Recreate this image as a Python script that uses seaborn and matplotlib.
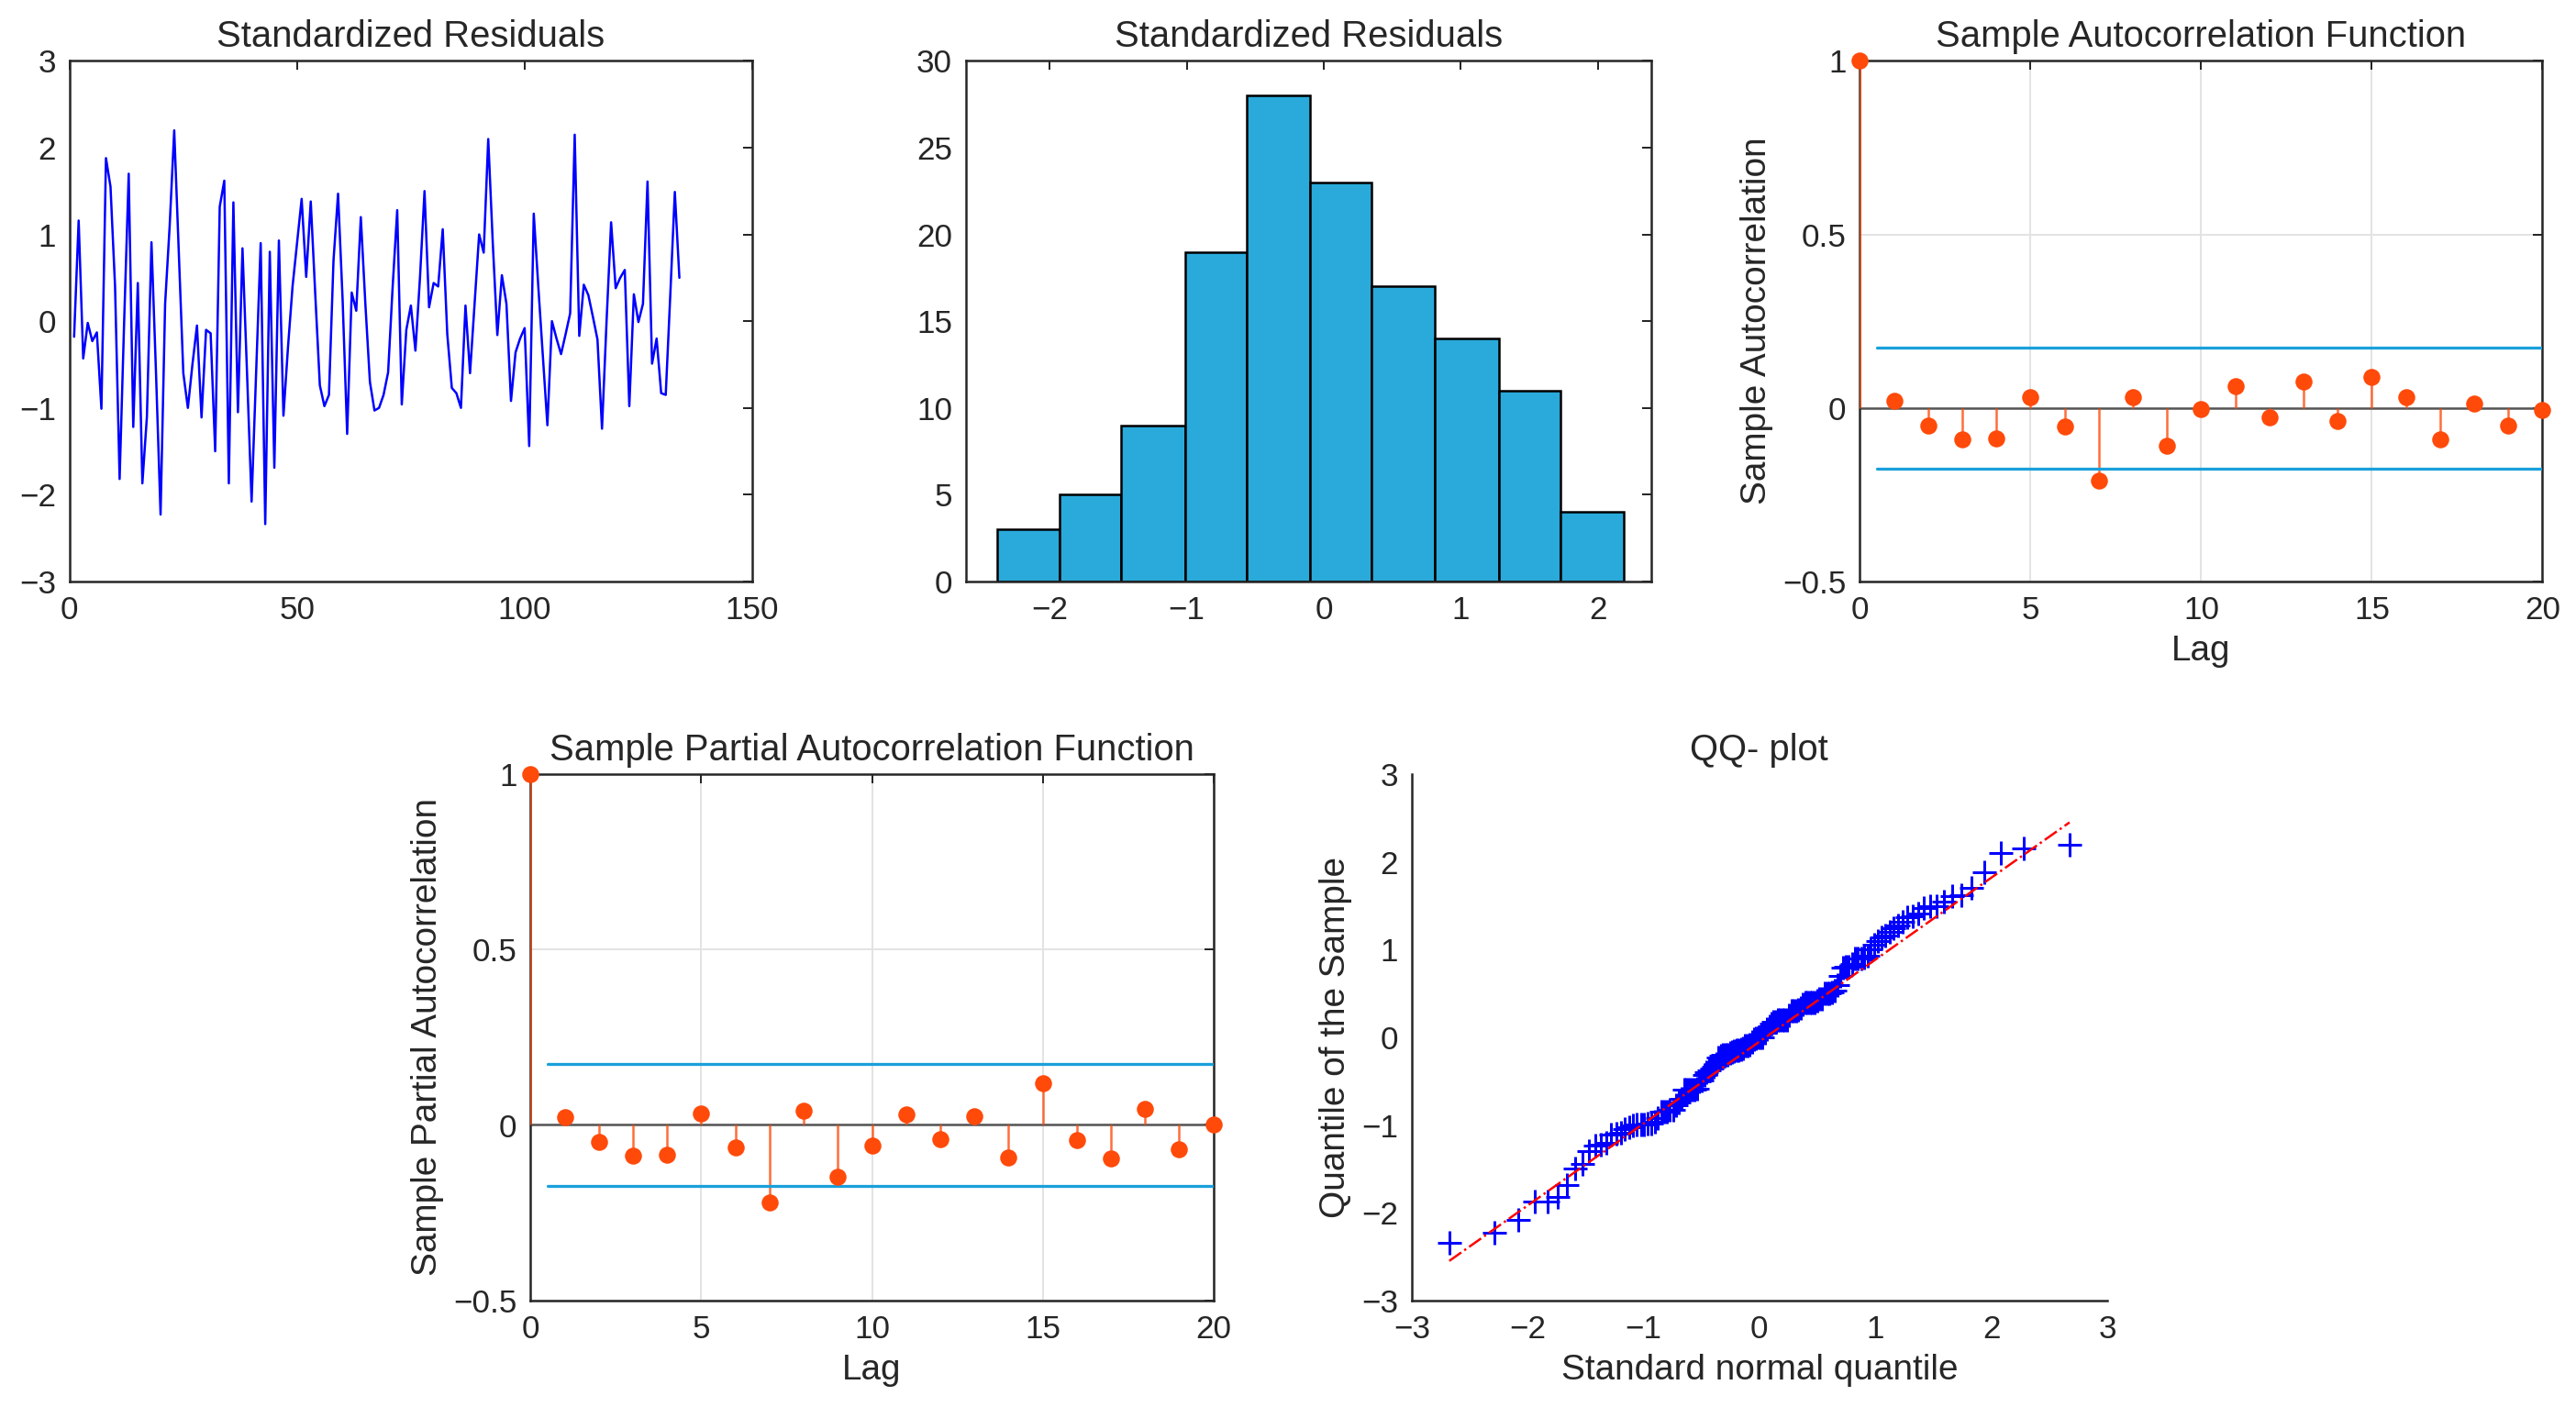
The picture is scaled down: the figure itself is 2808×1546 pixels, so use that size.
import numpy as np
import pandas as pd
import matplotlib
matplotlib.use('Agg')
import matplotlib.pyplot as plt
import seaborn as sns
from statistics import NormalDist

# standardized residuals
residuals = [
    -0.18, 1.16, -0.43, -0.02, -0.23, -0.13, -1.01, 1.88, 1.55, 0.40,
    -1.82, 0.00, 1.70, -1.22, 0.44, -1.87, -1.10, 0.91, -0.60, -2.23,
    0.20, 1.10, 2.20, 0.80, -0.60, -1.00, -0.50, -0.05, -1.11, -0.10,
    -0.14, -1.50, 1.32, 1.62, -1.87, 1.37, -1.05, 0.84, -0.60, -2.08,
    -0.60, 0.90, -2.34, 0.80, -1.69, 0.93, -1.09, -0.30, 0.40, 0.90,
    1.41, 0.51, 1.38, 0.30, -0.74, -0.98, -0.85, 0.70, 1.47, 0.25,
    -1.30, 0.33, 0.12, 1.20, 0.20, -0.70,
    -1.03, -1.00, -0.85, -0.59, 0.40, 1.28, -0.96, -0.10, 0.18, -0.34,
    0.50, 1.50, 0.16, 0.44, 0.40, 1.06, -0.15, -0.77, -0.83,
    -1.00, 0.18, -0.60, 0.20, 1.00, 0.79, 2.10, 0.90, -0.16, 0.53,
    0.20, -0.92, -0.36, -0.20, -0.08, -1.44, 1.24, 0.40, -0.40, -1.20,
    0.00, -0.20, -0.38, -0.15, 0.09, 2.15, -0.17, 0.42, 0.30, 0.05,
    -0.21, -1.24, 0.00, 1.14, 0.38, 0.50, 0.59, -0.98, 0.31, -0.01,
    0.20, 1.61, -0.49, -0.20, -0.83, -0.85, 0.30, 1.49, 0.50,
]

# histogram of the residuals
hist_edges = [-2.38, -1.93, -1.48, -1.01, -0.56, -0.10, 0.35, 0.81, 1.28, 1.73, 2.19]
hist_counts = [3, 5, 9, 19, 28, 23, 17, 14, 11, 4]

# sample ACF / PACF, lags 0..20
lags = list(range(21))
acf_vals = [1.0, 0.020, -0.050, -0.090, -0.087, 0.030, -0.054, -0.210, 0.030, -0.110,
            -0.003, 0.063, -0.026, 0.075, -0.039, 0.090, 0.032, -0.090, 0.013, -0.051,
            -0.006]
pacf_vals = [1.0, 0.022, -0.049, -0.087, -0.085, 0.033, -0.065, -0.222, 0.040, -0.149,
             -0.058, 0.031, -0.040, 0.024, -0.094, 0.120, -0.042, -0.096, 0.046, -0.070,
             0.000]
conf_bound = 0.174

BLUE = '#0000FF'
STEM = '#FF4A0A'
BOUND = '#1AA0DB'
HIST = '#29AADB'
SPINE = '#262626'

sns.set_theme(style='white')
plt.rcParams['font.family'] = ['Liberation Sans', 'DejaVu Sans']
plt.rcParams['axes.edgecolor'] = SPINE
plt.rcParams['axes.linewidth'] = 1.0
plt.rcParams['xtick.color'] = SPINE
plt.rcParams['ytick.color'] = SPINE
plt.rcParams['axes.labelcolor'] = SPINE

TITLE_FS = 16
LABEL_FS = 15.5
TICK_FS = 14


def style_box(ax, grid=False):
    for side in ['top', 'right', 'left', 'bottom']:
        ax.spines[side].set_visible(True)
        ax.spines[side].set_color(SPINE)
    ax.tick_params(direction='in', length=4, width=0.8, top=True, right=True,
                   labelsize=TICK_FS, pad=6)
    if grid:
        ax.grid(True, color='#E3E3E3', linewidth=0.8)
        ax.set_axisbelow(True)
    else:
        ax.grid(False)


def stem_plot(ax, vals, title, ylabel):
    df = pd.DataFrame({'lag': lags, 'val': vals})
    ax.axhline(0, color='#555555', linewidth=1.0, zorder=2)
    ax.vlines(df['lag'], 0, df['val'], color=STEM, linewidth=1.0, alpha=0.8, zorder=3)
    sns.scatterplot(data=df, x='lag', y='val', color=STEM, s=55, edgecolor=STEM,
                    linewidth=0, ax=ax, zorder=4, clip_on=False)
    ax.plot([0.5, 20], [conf_bound, conf_bound], color=BOUND, linewidth=1.3, zorder=3)
    ax.plot([0.5, 20], [-conf_bound, -conf_bound], color=BOUND, linewidth=1.3, zorder=3)
    ax.set_xlim(0, 20)
    ax.set_ylim(-0.5, 1)
    ax.set_xticks([0, 5, 10, 15, 20])
    ax.set_yticks([-0.5, 0, 0.5, 1])
    ax.set_yticklabels(['\u22120.5', '0', '0.5', '1'])
    ax.set_title(title, fontsize=TITLE_FS, pad=6)
    ax.set_xlabel('Lag', fontsize=LABEL_FS)
    ax.set_ylabel(ylabel, fontsize=LABEL_FS)
    style_box(ax, grid=True)


fig = plt.figure(figsize=(15.6, 8.589), dpi=180)

# time series of residuals
ax1 = fig.add_axes([0.027, 0.590, 0.265, 0.367])
ts = pd.DataFrame({'t': np.arange(1, len(residuals) + 1), 'r': residuals})
sns.lineplot(data=ts, x='t', y='r', color=BLUE, linewidth=1.0, ax=ax1)
ax1.set_xlim(0, 150)
ax1.set_ylim(-3, 3)
ax1.set_xticks([0, 50, 100, 150])
ax1.set_yticks([-3, -2, -1, 0, 1, 2, 3])
ax1.set_yticklabels(['\u22123', '\u22122', '\u22121', '0', '1', '2', '3'])
ax1.set_xlabel('')
ax1.set_ylabel('')
ax1.set_title('Standardized Residuals', fontsize=TITLE_FS, pad=6)
style_box(ax1)

# histogram
ax2 = fig.add_axes([0.375, 0.590, 0.266, 0.367])
centers = [(hist_edges[i] + hist_edges[i + 1]) / 2 for i in range(len(hist_counts))]
sns.histplot(x=centers, weights=hist_counts, bins=hist_edges, color=HIST, alpha=1,
             edgecolor='black', linewidth=1.0, ax=ax2)
ax2.set_xlim(-2.61, 2.39)
ax2.set_ylim(0, 30)
ax2.set_xticks([-2, -1, 0, 1, 2])
ax2.set_xticklabels(['\u22122', '\u22121', '0', '1', '2'])
ax2.set_yticks([0, 5, 10, 15, 20, 25, 30])
ax2.set_xlabel('')
ax2.set_ylabel('')
ax2.set_title('Standardized Residuals', fontsize=TITLE_FS, pad=6)
style_box(ax2)

# ACF
ax3 = fig.add_axes([0.722, 0.590, 0.265, 0.367])
stem_plot(ax3, acf_vals, 'Sample Autocorrelation Function', 'Sample Autocorrelation')

# PACF
ax4 = fig.add_axes([0.206, 0.083, 0.265, 0.371])
stem_plot(ax4, pacf_vals, 'Sample Partial Autocorrelation Function',
          'Sample Partial Autocorrelation')

# QQ plot
ax5 = fig.add_axes([0.548, 0.083, 0.270, 0.371])
y_sorted = np.sort(np.array(residuals))
n = len(y_sorted)
nd = NormalDist()
x_q = np.array([nd.inv_cdf((i - 0.5) / n) for i in range(1, n + 1)])
q1x, q3x = np.percentile(x_q, [25, 75])
q1y, q3y = np.percentile(y_sorted, [25, 75])
slope = (q3y - q1y) / (q3x - q1x)
line_x = np.array([x_q[0], x_q[-1]])
line_y = q1y + slope * (line_x - q1x)
qq = pd.DataFrame({'x': x_q, 'y': y_sorted})
sns.lineplot(x=line_x, y=line_y, color='red', linewidth=1.0, linestyle='-.', ax=ax5)
sns.scatterplot(data=qq, x='x', y='y', marker='+', color=BLUE, s=110, linewidth=1.2, ax=ax5)
ax5.set_xlim(-3, 3)
ax5.set_ylim(-3, 3)
ax5.set_xticks([-3, -2, -1, 0, 1, 2, 3])
ax5.set_xticklabels(['\u22123', '\u22122', '\u22121', '0', '1', '2', '3'])
ax5.set_yticks([-3, -2, -1, 0, 1, 2, 3])
ax5.set_yticklabels(['\u22123', '\u22122', '\u22121', '0', '1', '2', '3'])
ax5.set_title('QQ- plot', fontsize=TITLE_FS, pad=6)
ax5.set_xlabel('Standard normal quantile', fontsize=LABEL_FS)
ax5.set_ylabel('Quantile of the Sample', fontsize=LABEL_FS)
style_box(ax5)
ax5.spines['top'].set_visible(False)
ax5.spines['right'].set_visible(False)
ax5.tick_params(top=False, right=False)

fig.savefig('out.png', dpi=180)
